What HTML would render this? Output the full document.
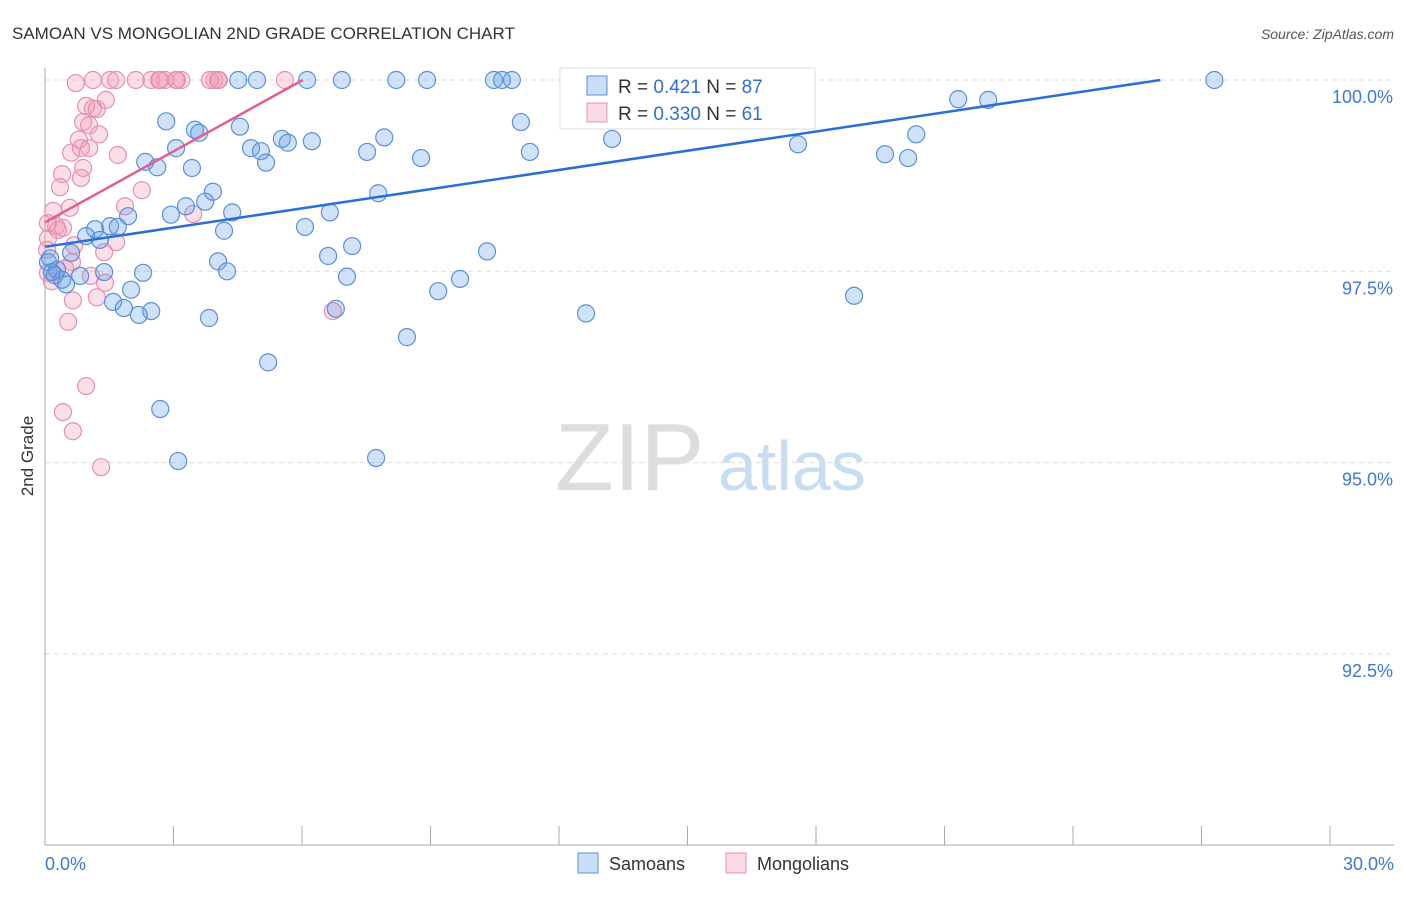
<!DOCTYPE html>
<html><head><meta charset="utf-8"><style>
body{margin:0;background:#fff;font-family:"Liberation Sans",sans-serif}
svg text{font-family:"Liberation Sans",sans-serif}
</style></head><body>
<svg id="c" width="1406" height="892" viewBox="0 0 1406 892">
<text x="12" y="39" font-size="17" fill="#333">SAMOAN VS MONGOLIAN 2ND GRADE CORRELATION CHART</text>
<text x="1394" y="39" font-size="14" fill="#555" font-style="italic" text-anchor="end">Source: ZipAtlas.com</text>
<text x="33" y="456" font-size="17" fill="#333" text-anchor="middle" transform="rotate(-90 33 456)">2nd Grade</text>
<g><text x="555" y="490" font-size="96" fill="#ddd" font-family="Liberation Serif,serif">ZIP</text><text x="718" y="490" font-size="70" fill="#c8dcf2">atlas</text></g>
<g id="grid"></g><g id="pts"></g><g id="lines"></g>
<g>
<rect x="560" y="68" width="255" height="61" fill="#fff" stroke="#ddd"/>
<rect x="587" y="76" width="20" height="19" fill="rgba(100,160,230,0.35)" stroke="#5a8fdd"/>
<text x="618" y="93" font-size="19" fill="#333">R = <tspan fill="#2f6fd6">0.421</tspan>   N = <tspan fill="#2f6fd6">87</tspan></text>
<rect x="587" y="103" width="20" height="19" fill="rgba(240,150,180,0.35)" stroke="#e890b0"/>
<text x="618" y="120" font-size="19" fill="#333">R = <tspan fill="#2f6fd6">0.330</tspan>   N =  <tspan fill="#2f6fd6">61</tspan></text>
</g>
<g>
<rect x="578" y="853" width="20" height="20" fill="rgba(100,160,230,0.35)" stroke="#5a8fdd"/>
<text x="609" y="870" font-size="18" fill="#333">Samoans</text>
<rect x="726" y="853" width="20" height="20" fill="rgba(240,150,180,0.35)" stroke="#e890b0"/>
<text x="757" y="870" font-size="18" fill="#333">Mongolians</text>
</g>
</svg>
<script>
const blueX=[4.51,4.95,6.12,6.93,8.20,8.92,10.48,10.67,10.90,12.33,13.99,14.97,27.30,21.32,22.02,2.83,11.11,3.50,3.60,4.55,20.34,7.92,5.53,13.24,4.81,5.67,6.23,5.04,17.58,3.06,11.32,7.52,19.61,20.15,8.78,2.34,5.16,2.62,3.43,3.92,7.78,3.29,3.74,4.37,6.65,2.94,1.94,6.07,4.18,1.52,1.70,1.17,0.96,1.28,7.17,0.61,10.32,6.61,4.04,0.07,0.12,4.25,2.29,1.38,0.23,0.82,7.05,9.69,0.49,9.18,2.01,18.89,1.59,1.84,2.48,2.19,12.63,3.83,6.79,8.45,5.21,2.69,3.11,7.73,0.28,0.40,0.16];
const blueY=[100,100,100,100,100,100,100,100,100,100,100,100,100,99.75,99.74,99.46,99.45,99.35,99.31,99.39,99.29,99.25,99.23,99.23,99.11,99.18,99.20,99.07,99.16,99.11,99.06,99.06,99.03,98.98,98.98,98.93,98.92,98.86,98.85,98.54,98.52,98.35,98.41,98.27,98.27,98.24,98.22,98.08,98.03,98.09,98.08,98.05,97.96,97.91,97.83,97.74,97.76,97.70,97.63,97.62,97.67,97.50,97.48,97.49,97.45,97.44,97.43,97.40,97.33,97.24,97.26,97.18,97.10,97.02,96.98,96.93,96.95,96.89,97.01,96.64,96.31,95.70,95.02,95.06,97.52,97.39,97.49];
const pinkX=[0.72,1.52,2.12,2.48,2.66,2.80,3.06,3.18,3.95,4.06,5.60,1.12,1.66,2.69,3.08,3.85,4.04,0.96,1.12,1.21,1.42,0.89,1.03,0.79,1.26,0.84,1.03,0.61,1.70,0.89,0.84,0.40,0.35,2.26,0.58,0.19,1.87,3.46,0.07,0.26,0.42,0.07,0.68,1.66,1.38,0.05,0.63,0.47,1.07,0.16,1.40,0.65,1.21,0.54,6.72,0.96,0.42,0.65,1.31,0.07,0.30];
const pinkY=[99.96,100,100,100,100,100,100,100,100,100,100,100,100,100,100,100,100,99.66,99.63,99.62,99.74,99.45,99.41,99.22,99.29,99.11,99.11,99.05,99.02,98.85,98.72,98.77,98.60,98.56,98.33,98.29,98.35,98.25,98.13,98.09,98.07,97.93,97.84,97.88,97.75,97.78,97.62,97.54,97.44,97.37,97.35,97.12,97.16,96.84,96.98,96.00,95.66,95.41,94.94,97.48,98.04];
const blueTrend=[[0,97.82],[26.04,100]];
const pinkTrend=[[0,98.14],[6.02,100]];
const yTicks=[100,97.5,95,92.5];
const yTickLabels=["100.0%","97.5%","95.0%","92.5%"];
const xTicks=[0,3,6,9,12,15,18,21,24,27,30];
const xAxisLabels=["0.0%","30.0%"];

const NS="http://www.w3.org/2000/svg";
const sx=v=>45+v*1285/30;
const sy=v=>80+(100-v)*76.52;
function mk(t,a,p){const e=document.createElementNS(NS,t);for(const k in a)e.setAttribute(k,a[k]);p.appendChild(e);return e;}
const grid=document.getElementById('grid');
yTicks.forEach((t,i)=>{
 const l=mk('line',{x1:45,x2:1394,y1:sy(t),y2:sy(t),stroke:'#ddd','stroke-dasharray':'5,4'},grid);
 
 
 const tx=mk('text',{x:1393,y:sy(t)+23,'font-size':18,fill:'#3b78d8','text-anchor':'end'},grid);
 tx.textContent=yTickLabels[i];
 
 
});
const ax=mk('line',{x1:45,x2:45,y1:68,y2:845,stroke:'#aaa'},grid);


const bx=mk('line',{x1:45,x2:1394,y1:845,y2:845,stroke:'#aaa'},grid);


xTicks.forEach(t=>{
 const l=mk('line',{x1:sx(t),x2:sx(t),y1:826,y2:845,stroke:'#aaa'},grid);
 
 
});
const xl0=mk('text',{x:45,y:870,'font-size':18,fill:'#3b78d8'},grid);xl0.textContent=xAxisLabels[0];


const xl1=mk('text',{x:1394,y:870,'font-size':18,fill:'#3b78d8','text-anchor':'end'},grid);xl1.textContent=xAxisLabels[1];


const pts=document.getElementById('pts');
pinkX.forEach((x,i)=>{
 const c=mk('circle',{cx:sx(x),cy:sy(pinkY[i]),r:8.5,fill:'rgba(240,150,180,0.3)',stroke:'#e890b0','stroke-width':1.2},pts);
 
 
});
blueX.forEach((x,i)=>{
 const c=mk('circle',{cx:sx(x),cy:sy(blueY[i]),r:8.5,fill:'rgba(100,160,230,0.3)',stroke:'#5a8fdd','stroke-width':1.2},pts);
 
 
});
const lines=document.getElementById('lines');
const bl=mk('line',{x1:sx(blueTrend[0][0]),y1:sy(blueTrend[0][1]),x2:sx(blueTrend[1][0]),y2:sy(blueTrend[1][1]),stroke:'#2a6fd6','stroke-width':2.5},lines);


const pl=mk('line',{x1:sx(pinkTrend[0][0]),y1:sy(pinkTrend[0][1]),x2:sx(pinkTrend[1][0]),y2:sy(pinkTrend[1][1]),stroke:'#e2608a','stroke-width':2.5},lines);


</script>
</body></html>
